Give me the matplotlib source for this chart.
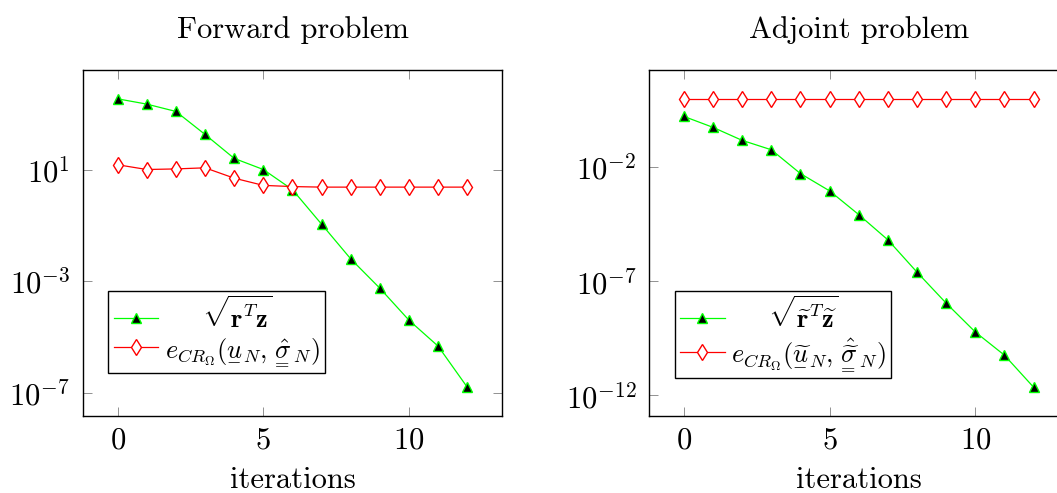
import numpy as np
import matplotlib
matplotlib.use("Agg")
import matplotlib.pyplot as plt
from matplotlib.ticker import FixedLocator, NullLocator, FuncFormatter
from matplotlib.mathtext import MathTextParser

# ---------------- data ----------------
iterations = [0, 1, 2, 3, 4, 5, 6, 7, 8, 9, 10, 11, 12]

fwd_residual = [3.4e3, 2.2e3, 1.2e3, 1.8e2, 2.5e1, 1.0e1, 1.9e0, 1.1e-1,
                6.3e-3, 5.6e-4, 4.0e-5, 4.7e-6, 1.6e-7]
fwd_error = [14.8, 10.0, 10.5, 11.5, 4.9, 2.7, 2.45, 2.34,
             2.34, 2.34, 2.34, 2.34, 2.34]

adj_residual = [1.66, 0.55, 0.148, 5.75e-2, 5.2e-3, 9.1e-4, 8.3e-5, 6.5e-6,
                2.5e-7, 1.1e-8, 6.0e-10, 5.8e-11, 2.3e-12]
adj_error = [9.8, 9.8, 9.8, 9.8, 9.8, 9.8, 9.8, 9.8, 9.8, 9.8, 9.8, 9.8, 9.8]

titles = ["Forward problem", "Adjoint problem"]
xlabel = "iterations"
x_ticks = [0, 5, 10]
fwd_yticks_exp = [1, -3, -7]
adj_yticks_exp = [-2, -7, -12]


def parses(s):
    try:
        MathTextParser("path").parse(s, dpi=72)
        return True
    except Exception:
        return False


has_ul = parses(r"$\underline{u}$")
has_us = parses(r"$\underset{-}{u}$")
has_hs = parses(r"$\hspace{1.0}x$")


def ul(s):
    if has_ul:
        return r"\underline{%s}" % s
    if has_us:
        return r"\underset{-}{%s}" % s
    return s


def ul2(s):
    if has_ul:
        return r"\underline{\underline{%s}}" % s
    if has_us:
        return r"\underset{=}{%s}" % s
    return s


def pad(em):
    return r"\hspace{%.2f}" % em if has_hs else r"\quad"


fwd_labels = [
    r"$%s\sqrt{\mathbf{r}^T\mathbf{z}}$" % pad(1.6),
    r"$e_{CR_\Omega}(%s_N,%s_N)$" % (ul("u"), ul2(r"\hat{\sigma}")),
]
adj_labels = [
    r"$%s\sqrt{\widetilde{\mathbf{r}}^T\widetilde{\mathbf{z}}}$" % pad(1.6),
    r"$e_{CR_\Omega}(%s_N,%s_N)$"
    % (ul(r"\widetilde{u}"), ul2(r"\hat{\widetilde{\sigma}}")),
]

# ---------------- style ----------------
plt.rcParams["mathtext.fontset"] = "cm"
plt.rcParams["font.family"] = "serif"
plt.rcParams["font.serif"] = ["cmr10", "DejaVu Serif"]
plt.rcParams["axes.formatter.use_mathtext"] = True
plt.rcParams["axes.unicode_minus"] = False

W, H = 1057, 493
fig = plt.figure(figsize=(W / 100, H / 100), dpi=100)

ax_w = 419.5 / W
ax_h = 346 / H
ax_b = (H - 416) / H
ax1 = fig.add_axes([82.7 / W, ax_b, ax_w, ax_h])
ax2 = fig.add_axes([649 / W, ax_b, ax_w, ax_h])

green = "#00ff00"
red = "#ff0000"
fs = 22
leg_fs = 19


def pow10(v, pos):
    e = int(round(np.log10(v)))
    return r"$10^{%d}$" % e


for ax, res, err, labels, yexp, title in [
    (ax1, fwd_residual, fwd_error, fwd_labels, fwd_yticks_exp, titles[0]),
    (ax2, adj_residual, adj_error, adj_labels, adj_yticks_exp, titles[1]),
]:
    ax.set_yscale("log")
    ax.plot(iterations, res, color=green, lw=0.9, marker="^", ms=6.5,
            mfc="black", mec=green, mew=1.0, label=labels[0])
    ax.plot(iterations, err, color=red, lw=0.9, marker="d", ms=8,
            mfc="white", mec=red, mew=1.0, label=labels[1])
    ax.margins(x=0.1, y=0.1)
    ax.xaxis.set_major_locator(FixedLocator(x_ticks))
    ax.yaxis.set_major_locator(FixedLocator([10.0 ** e for e in yexp]))
    ax.yaxis.set_minor_locator(NullLocator())
    ax.xaxis.set_minor_locator(NullLocator())
    ax.yaxis.set_major_formatter(FuncFormatter(pow10))
    ax.xaxis.set_major_formatter(FuncFormatter(lambda v, p: r"$%d$" % v))
    ax.tick_params(which="both", direction="in", length=6.5, width=0.6,
                   color="0.5", top=True, right=True, labelsize=fs)
    ax.tick_params(axis="x", pad=8)
    ax.tick_params(axis="y", pad=9)
    for sp in ax.spines.values():
        sp.set_linewidth(1.0)
        sp.set_color("black")
    ax.set_title(title, fontsize=fs, pad=23)
    ax.set_xlabel(xlabel, fontsize=fs, labelpad=9)
    ax.set_facecolor("white")

leg_kw = dict(loc="lower left", fontsize=leg_fs, frameon=True, fancybox=False,
              framealpha=1, edgecolor="black", numpoints=1, handlelength=1.7,
              handletextpad=0.25, borderpad=0.2, labelspacing=0.15,
              borderaxespad=0)
l1 = ax1.legend(bbox_to_anchor=(0.061, 0.123), **leg_kw)
l2 = ax2.legend(bbox_to_anchor=(0.061, 0.109), **leg_kw)
for lg in (l1, l2):
    lg.get_frame().set_linewidth(1.0)

fig.savefig("out.png", dpi=100, facecolor="white")
